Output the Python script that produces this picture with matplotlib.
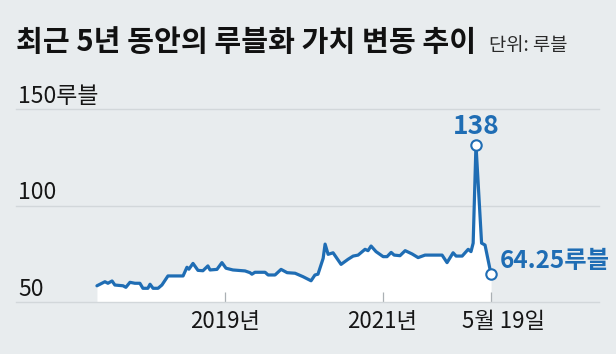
import matplotlib
matplotlib.use('Agg')
import matplotlib.pyplot as plt
import matplotlib.transforms as mtransforms
import pandas as pd

plt.rcParams['font.family'] = ['Noto Sans CJK KR', 'DejaVu Sans']

# ---- data ----
dates = [
    '2017-05-19', '2017-06-25', '2017-07-09', '2017-07-28', '2017-08-10',
    '2017-09-17', '2017-09-30', '2017-10-19', '2017-11-11', '2017-12-04',
    '2017-12-18', '2018-01-10', '2018-01-20', '2018-02-03', '2018-02-26',
    '2018-03-16', '2018-04-13', '2018-06-22', '2018-07-10', '2018-07-19',
    '2018-08-07', '2018-08-30', '2018-09-22', '2018-10-15', '2018-10-25',
    '2018-11-26', '2018-12-19', '2019-01-07', '2019-02-08', '2019-04-05',
    '2019-04-28', '2019-05-07', '2019-05-21', '2019-07-07', '2019-07-21',
    '2019-08-22', '2019-09-19', '2019-10-17', '2019-11-23', '2019-12-30',
    '2020-02-05', '2020-02-23', '2020-03-08', '2020-04-01', '2020-04-10',
    '2020-04-24', '2020-05-17', '2020-06-23', '2020-07-25', '2020-08-18',
    '2020-09-10', '2020-10-12', '2020-10-26', '2020-11-09', '2020-12-02',
    '2021-01-04', '2021-01-22', '2021-02-10', '2021-02-24', '2021-03-23',
    '2021-04-16', '2021-05-18', '2021-06-15', '2021-07-17', '2021-10-04',
    '2021-10-27', '2021-11-24', '2021-12-08', '2022-01-05', '2022-02-02',
    '2022-02-15', '2022-02-25', '2022-03-10', '2022-04-05', '2022-04-21',
    '2022-05-19',
]
rates = [
    58.4, 60.5, 59.7, 60.9, 58.8,
    58.4, 57.6, 60.2, 59.7, 59.7,
    57.1, 57.1, 59.2, 57.1, 57.1,
    58.8, 63.5, 63.5, 68.0, 67.0,
    70.0, 66.4, 66.2, 68.7, 66.6,
    66.9, 70.4, 67.5, 66.6, 66.1,
    65.2, 64.4, 65.4, 65.4, 64.0,
    64.0, 66.9, 65.2, 64.9, 63.1,
    61.0, 64.0, 64.4, 72.6, 80.0,
    74.7, 75.5, 69.5, 72.1, 73.8,
    74.3, 77.3, 76.6, 79.0, 76.1,
    73.5, 73.5, 75.7, 74.3, 74.0,
    76.6, 74.9, 73.0, 74.3, 74.3,
    70.4, 75.5, 73.8, 73.8, 77.3,
    76.1, 80.5, 131.5, 80.5, 79.5,
    64.25,
]

title = '최근 5년 동안의 루블화 가치 변동 추이'
unit_text = '단위: 루블'
y_ticks = [50, 100, 150]
y_tick_labels = ['50', '100', '150루블']
x_ticks = ['2019-01-01', '2021-01-01', '2022-05-19']
x_tick_labels = ['2019년', '2021년', '5월 19일']
peak_label = '138'
end_label = '64.25루블'

# ---- style ----
BG = '#e8ecee'
BLUE = '#1f6db4'
GRID = '#d2d7da'
TEXT = '#161616'
W, H = 616, 354


def fx(px):
    return px / W


def fy(py):
    return 1 - py / H


fig = plt.figure(figsize=(W / 100, H / 100), dpi=100, facecolor=BG)
ax = fig.add_axes([fx(16), fy(302), fx(599) - fx(16), fy(109) - fy(302)])
ax.set_facecolor(BG)

d = pd.to_datetime(dates)
ax.fill_between(d, y_ticks[0], rates, color='white', lw=0, zorder=1)
ax.plot(d, rates, color=BLUE, lw=2.3, solid_joinstyle='round',
        solid_capstyle='round', zorder=4)

for v in y_ticks:
    ax.axhline(v, color=GRID, lw=1.0, zorder=2 if v == y_ticks[0] else 0,
               clip_on=False)

ax.set_xlim(d[0] - pd.Timedelta(days=375), d[-1] + pd.Timedelta(days=500))
ax.set_ylim(y_ticks[0], y_ticks[-1])
for s in ax.spines.values():
    s.set_visible(False)
ax.set_yticks([])

ax.set_xticks(pd.to_datetime(x_ticks))
ax.set_xticklabels(x_tick_labels, fontsize=16, color=TEXT)
ax.tick_params(axis='x', direction='in', length=7, width=0.9,
               color='#aab0b4', pad=6)
lab = ax.get_xticklabels()[-1]
lab.set_transform(lab.get_transform() +
                  mtransforms.ScaledTranslation(9 / 72, 0, fig.dpi_scale_trans))

# y labels above the gridlines
for v, t in zip(y_ticks, y_tick_labels):
    ax.annotate(t, xy=(0, v), xycoords=('axes fraction', 'data'),
                xytext=(1.5, 4.5), textcoords='offset points',
                ha='left', va='baseline', fontsize=16.5, color=TEXT,
                annotation_clip=False)

# highlighted points
ip = max(range(len(rates)), key=lambda i: rates[i])
ie = len(rates) - 1
for i in (ip, ie):
    ax.plot([d[i]], [rates[i]], 'o', ms=7.5, mfc='white', mec=BLUE,
            mew=1.5, zorder=5, clip_on=False)

ax.annotate(peak_label, xy=(d[ip], rates[ip]), xytext=(0, 8),
            textcoords='offset points', ha='center', va='baseline',
            fontsize=19, color=BLUE, weight='bold', annotation_clip=False)
ax.annotate(end_label, xy=(d[ie], rates[ie]), xytext=(6, 4.5),
            textcoords='offset points', ha='left', va='baseline',
            fontsize=17.5, color=BLUE, weight='bold', annotation_clip=False)

fig.text(fx(16), fy(51), title, fontsize=21, weight='bold', color='#111111',
         ha='left', va='baseline')
fig.text(fx(489), fy(51), unit_text, fontsize=13.5, color='#2a2a2a',
         ha='left', va='baseline')

fig.savefig('out.png', dpi=100, facecolor=BG)
